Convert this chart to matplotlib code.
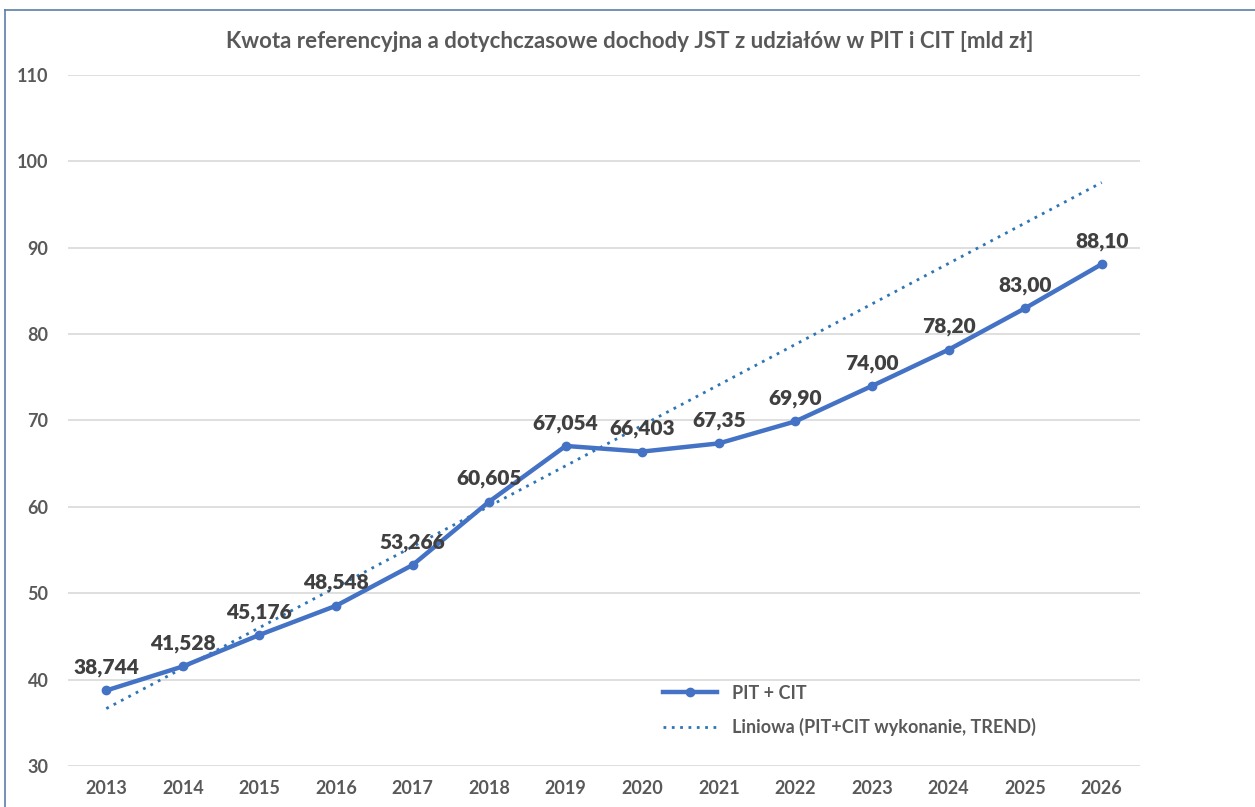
import numpy as np
import matplotlib.pyplot as plt
from matplotlib.lines import Line2D

# Data
years = [2013, 2014, 2015, 2016, 2017, 2018, 2019, 2020, 2021, 2022, 2023, 2024, 2025, 2026]
values = [38.744, 41.528, 45.176, 48.548, 53.266, 60.605, 67.054, 66.403, 67.35, 69.90, 74.00, 78.20, 83.00, 88.10]
labels = ['38,744', '41,528', '45,176', '48,548', '53,266', '60,605', '67,054',
          '66,403', '67,35', '69,90', '74,00', '78,20', '83,00', '88,10']
trend_years = [2013, 2014, 2015, 2016, 2017, 2018, 2019]  # "wykonanie" years used for the trend

plt.rcParams['font.family'] = ['Lato', 'DejaVu Sans']

fig = plt.figure(figsize=(12.55, 8.07), dpi=100)
ax = fig.add_axes([68 / 1255, 1 - 766 / 807, (1140 - 68) / 1255, (766 - 75) / 807])

x = np.array(years)
y = np.array(values)

# linear trend fitted on actual years, extended over whole range
n = len(trend_years)
coef = np.polyfit(x[:n], y[:n], 1)
trend = np.polyval(coef, x)

ax.plot(x, y, color='#4472C4', linewidth=3.2, marker='o', markersize=6, label='PIT + CIT', zorder=3)
ax.plot(x, trend, color='#2E75B6', linewidth=2, linestyle=(0, (1, 2)),
        label='Liniowa (PIT+CIT wykonanie, TREND)', zorder=2)

for xi, yi, txt in zip(x, y, labels):
    ax.annotate(txt, (xi, yi), textcoords='offset points', xytext=(0, 16.5), ha='center', va='center',
                fontsize=15, fontweight='heavy', color='#404040', zorder=4)

ax.set_xlim(2012.5, 2026.5)
ax.set_ylim(30, 110)
ax.set_yticks(range(30, 111, 10))
ax.set_xticks(years)
ax.grid(axis='y', color='#D9D9D9', linewidth=1.2)
ax.set_axisbelow(True)
for s in ax.spines.values():
    s.set_visible(False)
ax.tick_params(length=0, labelsize=13, labelcolor='#595959', pad=10)
for t in ax.get_xticklabels() + ax.get_yticklabels():
    t.set_fontweight('bold')
ax.tick_params(axis='y', pad=14)

leg = ax.legend(loc='lower left', bbox_to_anchor=(0.54, 0.02), frameon=False, fontsize=13,
                labelcolor='#595959', handlelength=3, labelspacing=0.9)
for t in leg.get_texts():
    t.set_fontweight('bold')

fig.text(0.502, 1 - 42 / 807, 'Kwota referencyjna a dotychczasowe dochody JST z udziałów w PIT i CIT [mld zł]',
         ha='center', va='center', fontsize=16, fontweight='bold', color='#595959')

# outer frame (left and top edges visible)
fig.add_artist(Line2D([5 / 1255, 5 / 1255], [0, 1 - 10 / 807], transform=fig.transFigure, color='#5B7FA6', linewidth=1.2))
fig.add_artist(Line2D([5 / 1255, 1], [1 - 10 / 807, 1 - 10 / 807], transform=fig.transFigure, color='#5B7FA6', linewidth=1.2))

fig.savefig('out.png', dpi=100)
